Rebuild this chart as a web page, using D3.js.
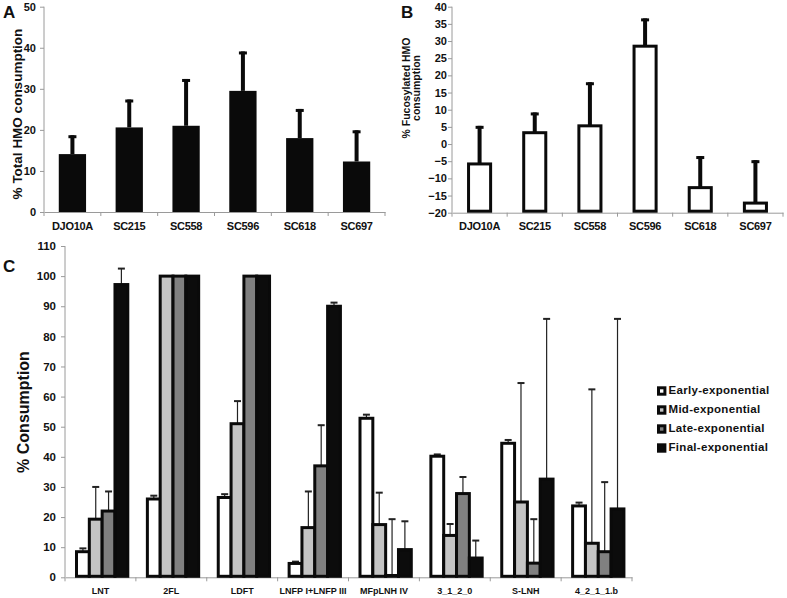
<!DOCTYPE html>
<html><head><meta charset="utf-8">
<script src="https://cdn.jsdelivr.net/npm/d3@7/dist/d3.min.js"></script>
<style>
body{margin:0;background:#fff}
text{font-family:"Liberation Sans",Arial,sans-serif;font-weight:bold;fill:#111}
</style>
</head><body>
<svg id="chart" width="787" height="598"></svg>
<script>
// ---- Panel A / B data ----
const strains = ["DJO10A","SC215","SC558","SC596","SC618","SC697"];
const totalHMO = [14.1, 20.6, 21.0, 29.5, 18.0, 12.3];
const totalHMOErr = [4.6, 6.8, 11.4, 9.6, 7.1, 7.6];
const totalTicks = [0,10,20,30,40,50];
const fucoHMO = [-5.8, 3.3, 5.3, 28.5, -12.7, -17.2];
const fucoHMOErr = [11.1, 5.9, 12.7, 8.1, 9.2, 12.5];
const fucoTicks = [-20,-15,-10,-5,0,5,10,15,20,25,30,35,40];

// ---- Panel C data ----
const hmos = ["LNT","2FL","LDFT","LNFP I+LNFP III","MFpLNH IV","3_1_2_0","S-LNH","4_2_1_1.b"];
const phases = ["Early-exponential","Mid-exponential","Late-exponential","Final-exponential"];
const early = [8.5, 26.0, 26.5, 4.6, 52.8, 40.2, 44.5, 23.7];
const earlyErr = [1.1, 1.1, 1.1, 0.6, 1.2, 0.6, 1.1, 1.1];
const mid = [19.3, 100, 51.0, 16.5, 17.5, 13.9, 25.0, 11.3];
const midErr = [10.7, 0, 7.5, 12.0, 10.6, 3.8, 39.5, 51.1];
const late = [22.0, 100, 100, 37.0, 0.6, 27.8, 4.7, 8.5];
const lateErr = [6.5, 0, 0, 13.5, 18.7, 5.5, 14.6, 23.1];
const final = [97.2, 100, 100, 90.0, 9.2, 6.4, 32.6, 22.7];
const finalErr = [5.3, 0, 0, 1.2, 9.4, 5.8, 53.2, 63.1];
const consTicks = d3.range(0, 111, 10);
const phaseColors = ["#ffffff","#c4c4c4","#808080","#0c0c0c"];

const svg = d3.select("#chart");
svg.append("rect").attr("width",787).attr("height",598).attr("fill","#fff");
const axisColor = "#9a9a9a";

function styleAxis(g, fs){
  g.select(".domain").attr("stroke", axisColor);
  g.selectAll(".tick line").attr("stroke", axisColor);
  g.selectAll(".tick text").attr("font-size", fs).attr("fill","#111");
}

// ================= Panel A =================
{
  const x = d3.scaleBand().domain(strains).range([44,385]).paddingInner(0.52).paddingOuter(0.26);
  const y = d3.scaleLinear().domain([0,50]).range([212,6.7]);
  const g = svg.append("g");
  const ya = g.append("g").attr("transform","translate(44,0)")
    .call(d3.axisLeft(y).tickValues(totalTicks).tickSize(4).tickPadding(4));
  styleAxis(ya, "11px");
  ya.select(".domain").attr("d","M-0,6.7V212");
  const xa = g.append("g").attr("transform","translate(0,212)")
    .call(d3.axisBottom(x).tickSize(0).tickPadding(10));
  styleAxis(xa, "11px");
  xa.selectAll(".tick text").attr("letter-spacing","-0.3px");
  const step = x.step();
  g.selectAll("line.bnd").data(d3.range(strains.length+1)).join("line")
    .attr("x1", i=>44+i*step).attr("x2", i=>44+i*step).attr("y1",212).attr("y2",216)
    .attr("stroke",axisColor);
  const data = strains.map((s,i)=>({s, v:totalHMO[i], e:totalHMOErr[i]}));
  g.selectAll("rect.bar").data(data).join("rect")
    .attr("x", d=>x(d.s)).attr("width", x.bandwidth())
    .attr("y", d=>y(d.v)).attr("height", d=>y(0)-y(d.v)).attr("fill","#0a0a0a");
  g.selectAll("line.err").data(data).join("line")
    .attr("x1", d=>x(d.s)+x.bandwidth()/2).attr("x2", d=>x(d.s)+x.bandwidth()/2)
    .attr("y1", d=>y(d.v)).attr("y2", d=>y(d.v+d.e)).attr("stroke","#0a0a0a").attr("stroke-width",4);
  g.selectAll("line.cap").data(data).join("line")
    .attr("x1", d=>x(d.s)+x.bandwidth()/2-4).attr("x2", d=>x(d.s)+x.bandwidth()/2+4)
    .attr("y1", d=>y(d.v+d.e)+1.5).attr("y2", d=>y(d.v+d.e)+1.5).attr("stroke","#0a0a0a").attr("stroke-width",3);
  g.append("text").attr("transform","translate(22,114) rotate(-90)").attr("text-anchor","middle")
    .attr("font-size","13.5px").text("% Total HMO consumption");
  g.append("text").attr("x",3).attr("y",18).attr("font-size","17px").text("A");
}

// ================= Panel B =================
{
  const x = d3.scaleBand().domain(strains).range([452,783]).paddingInner(0.6).paddingOuter(0.3);
  const y = d3.scaleLinear().domain([-20,40]).range([212.7,6.7]);
  const g = svg.append("g");
  const ya = g.append("g").attr("transform","translate(452,0)")
    .call(d3.axisLeft(y).tickValues(fucoTicks).tickSize(4).tickPadding(1));
  styleAxis(ya, "11px");
  ya.select(".domain").attr("d","M-0,6.7V212.7");
  const xa = g.append("g").attr("transform","translate(0,212.7)")
    .call(d3.axisBottom(x).tickSize(0).tickPadding(10));
  styleAxis(xa, "11px");
  xa.selectAll(".tick text").attr("letter-spacing","-0.3px");
  const step = x.step();
  g.selectAll("line.bnd").data(d3.range(strains.length+1)).join("line")
    .attr("x1", i=>452+i*step).attr("x2", i=>452+i*step).attr("y1",212.7).attr("y2",216.7)
    .attr("stroke",axisColor);
  const data = strains.map((s,i)=>({s, v:fucoHMO[i], e:fucoHMOErr[i]}));
  g.selectAll("line.err").data(data).join("line")
    .attr("x1", d=>x(d.s)+x.bandwidth()/2).attr("x2", d=>x(d.s)+x.bandwidth()/2)
    .attr("y1", d=>y(d.v)).attr("y2", d=>y(d.v+d.e)).attr("stroke","#0a0a0a").attr("stroke-width",4);
  g.selectAll("line.cap").data(data).join("line")
    .attr("x1", d=>x(d.s)+x.bandwidth()/2-4).attr("x2", d=>x(d.s)+x.bandwidth()/2+4)
    .attr("y1", d=>y(d.v+d.e)+1.5).attr("y2", d=>y(d.v+d.e)+1.5).attr("stroke","#0a0a0a").attr("stroke-width",3);
  g.selectAll("rect.bar").data(data).join("rect")
    .attr("x", d=>x(d.s)).attr("width", x.bandwidth())
    .attr("y", d=>y(d.v)).attr("height", d=>y(-20)-1.5-y(d.v))
    .attr("fill","#fff").attr("stroke","#0a0a0a").attr("stroke-width",3);
  const t = g.append("text").attr("transform","translate(409.5,88) rotate(-90)").attr("text-anchor","middle")
    .attr("font-size","10.5px");
  t.append("tspan").attr("x",0).attr("dy",0).text("% Fucosylated HMO");
  t.append("tspan").attr("x",0).attr("dy","1.0em").text("consumption");
  g.append("text").attr("x",401).attr("y",18).attr("font-size","17px").text("B");
}

// ================= Panel C =================
{
  const x0 = d3.scaleBand().domain(hmos).range([65,632]).padding(0);
  const x1 = d3.scaleBand().domain(phases).range([11.5, 62.8]).padding(0);
  const y = d3.scaleLinear().domain([0,110]).range([577.3,246]);
  const g = svg.append("g");
  const ya = g.append("g").attr("transform","translate(65,0)")
    .call(d3.axisLeft(y).tickValues(consTicks).tickSize(4).tickPadding(5));
  styleAxis(ya, "11.5px");
  ya.select(".domain").attr("d","M-0,246V577.3");
  const xa = g.append("g").attr("transform","translate(0,577.3)")
    .call(d3.axisBottom(x0).tickSize(0).tickPadding(10));
  styleAxis(xa, "9px");
  const step = x0.step();
  g.selectAll("line.bnd").data(d3.range(hmos.length+1)).join("line")
    .attr("x1", i=>65+i*step).attr("x2", i=>65+i*step).attr("y1",577.3).attr("y2",581.3)
    .attr("stroke",axisColor);
  const series = [[early,earlyErr],[mid,midErr],[late,lateErr],[final,finalErr]];
  const data = [];
  hmos.forEach((h,i)=>phases.forEach((p,j)=>data.push({h,p,j,v:series[j][0][i],e:series[j][1][i]})));
  const cx = d=>x0(d.h)+x1(d.p)+x1.bandwidth()/2;
  const ed = data.filter(d=>d.e>0);
  g.selectAll("line.err").data(ed).join("line")
    .attr("x1", cx).attr("x2", cx)
    .attr("y1", d=>y(d.v)).attr("y2", d=>y(d.v+d.e)).attr("stroke","#222").attr("stroke-width",1.2);
  g.selectAll("line.cap").data(ed).join("line")
    .attr("x1", d=>cx(d)-3.5).attr("x2", d=>cx(d)+3.5)
    .attr("y1", d=>y(d.v+d.e)).attr("y2", d=>y(d.v+d.e)).attr("stroke","#222").attr("stroke-width",2);
  g.selectAll("rect.bar").data(data).join("rect")
    .attr("x", d=>x0(d.h)+x1(d.p)).attr("width", x1.bandwidth())
    .attr("y", d=>y(d.v)).attr("height", d=>Math.max(0, y(0)-1-y(d.v)))
    .attr("fill", d=>phaseColors[d.j]).attr("stroke","#0a0a0a").attr("stroke-width",3);
  g.append("text").attr("transform","translate(29,412) rotate(-90)").attr("text-anchor","middle")
    .attr("font-size","16px").text("% Consumption");
  g.append("text").attr("x",3).attr("y",272).attr("font-size","17px").text("C");
  // legend
  const lg = g.append("g");
  const items = lg.selectAll("g").data(phases).join("g")
    .attr("transform",(d,i)=>`translate(657,${394+i*19})`);
  items.append("rect").attr("x",1.5).attr("y",-6.2).attr("width",6.4).attr("height",6.4)
    .attr("fill",(d,i)=>phaseColors[i]).attr("stroke","#0a0a0a").attr("stroke-width",3);
  items.append("text").attr("x",11.5).attr("y",0).attr("font-size","11.5px").attr("letter-spacing","0.3px").text(d=>d);
}
</script>
</body></html>
